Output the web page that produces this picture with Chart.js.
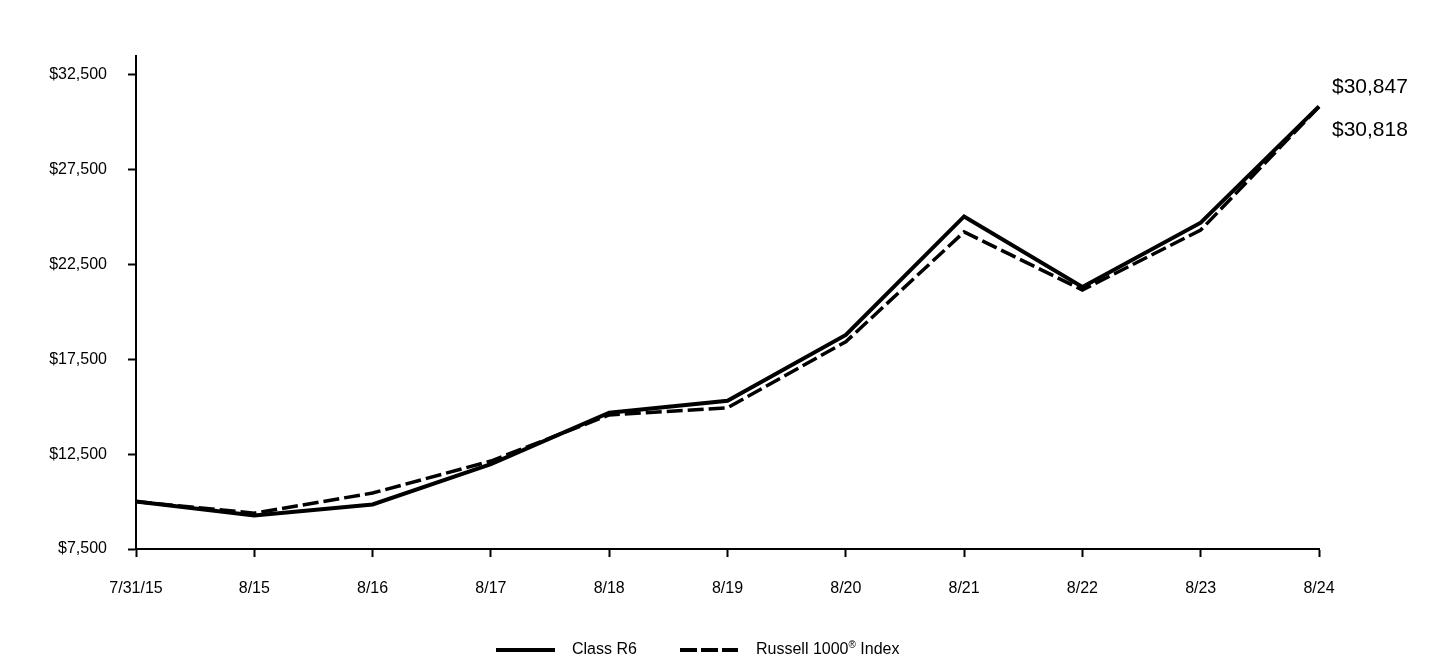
<!DOCTYPE html>
<html>
<head>
<meta charset="utf-8">
<script src="https://cdn.jsdelivr.net/npm/chart.js@4/dist/chart.umd.min.js"></script>
<style>
  html, body { margin: 0; padding: 0; background: #fff; }
  #wrap { width: 1440px; height: 660px; position: relative; }
</style>
</head>
<body>
<div id="wrap"><canvas id="growthChart" width="1440" height="660"></canvas></div>
<script>
const labels = ['7/31/15', '8/15', '8/16', '8/17', '8/18', '8/19', '8/20', '8/21', '8/22', '8/23', '8/24'];
const classR6 = [10000, 9270, 9850, 11980, 14690, 15320, 18790, 25040, 21320, 24710, 30847];
const russell1000 = [10000, 9390, 10450, 12140, 14570, 14950, 18430, 24220, 21160, 24320, 30818];
const yTicks = [7500, 12500, 17500, 22500, 27500, 32500];

const FONT = '"Liberation Sans", Arial, sans-serif';

// end-of-line value labels
const endLabels = {
    id: 'endLabels',
    afterDatasetsDraw(chart) {
        const ctx = chart.ctx;
        const x = chart.scales.x.getPixelForValue(labels.length - 1) + 13;
        const y1 = chart.scales.y.getPixelForValue(classR6[classR6.length - 1]);
        const y2 = chart.scales.y.getPixelForValue(russell1000[russell1000.length - 1]);
        ctx.save();
        ctx.fillStyle = '#000';
        ctx.font = '21px ' + FONT;
        ctx.textAlign = 'left';
        ctx.textBaseline = 'middle';
        ctx.fillText('$' + classR6[classR6.length - 1].toLocaleString('en-US'), x, y1 - 19);
        ctx.fillText('$' + russell1000[russell1000.length - 1].toLocaleString('en-US'), x, y2 + 23);
        ctx.restore();
    }
};

// legend with superscript ®
const bottomLegend = {
    id: 'bottomLegend',
    afterDraw(chart) {
        const ctx = chart.ctx;
        const y = 650;
        ctx.save();
        ctx.strokeStyle = '#000';
        ctx.lineWidth = 4;
        ctx.beginPath();
        ctx.moveTo(496, y);
        ctx.lineTo(555, y);
        ctx.stroke();
        ctx.setLineDash([17, 4]);
        ctx.beginPath();
        ctx.moveTo(680, y);
        ctx.lineTo(738, y);
        ctx.stroke();
        ctx.setLineDash([]);

        ctx.fillStyle = '#000';
        ctx.textBaseline = 'middle';
        ctx.textAlign = 'left';
        ctx.font = '16px ' + FONT;
        ctx.fillText('Class R6', 572, y);
        let tx = 756;
        ctx.fillText('Russell 1000', tx, y);
        tx += ctx.measureText('Russell 1000').width;
        ctx.font = '10px ' + FONT;
        ctx.fillText('®', tx, y - 5);
        tx += ctx.measureText('®').width;
        ctx.font = '16px ' + FONT;
        ctx.fillText(' Index', tx, y);
        ctx.restore();
    }
};

new Chart(document.getElementById('growthChart'), {
    type: 'line',
    data: {
        labels: labels,
        datasets: [
            {
                label: 'Class R6',
                data: classR6,
                borderColor: '#000',
                borderWidth: 4,
                pointRadius: 0,
                tension: 0,
                fill: false
            },
            {
                label: 'Russell 1000® Index',
                data: russell1000,
                borderColor: '#000',
                borderWidth: 3.5,
                borderDash: [16, 5],
                pointRadius: 0,
                tension: 0,
                fill: false
            }
        ]
    },
    options: {
        responsive: false,
        animation: false,
        layout: { padding: { left: 0, top: 56, right: 121, bottom: 51 } },
        plugins: {
            legend: { display: false },
            tooltip: { enabled: false }
        },
        scales: {
            x: {
                offset: false,
                grid: { drawOnChartArea: false, drawTicks: true, tickLength: 8, color: '#000', tickWidth: 2 },
                border: { display: true, color: '#000', width: 2 },
                ticks: { color: '#000', font: { family: FONT, size: 16 }, padding: 22, maxRotation: 0, autoSkip: false },
                afterFit(scale) { scale.height = 60; }
            },
            y: {
                min: 7500,
                max: 33500,
                afterBuildTicks(scale) { scale.ticks = yTicks.map(v => ({ value: v })); },
                grid: { drawOnChartArea: false, drawTicks: true, tickLength: 8, color: '#000', tickWidth: 2 },
                border: { display: true, color: '#000', width: 2 },
                ticks: {
                    color: '#000',
                    font: { family: FONT, size: 16 },
                    padding: 21,
                    callback: v => '$' + Number(v).toLocaleString('en-US')
                },
                afterFit(scale) { scale.width = 136; }
            }
        }
    },
    plugins: [endLabels, bottomLegend]
});
</script>
</body>
</html>
